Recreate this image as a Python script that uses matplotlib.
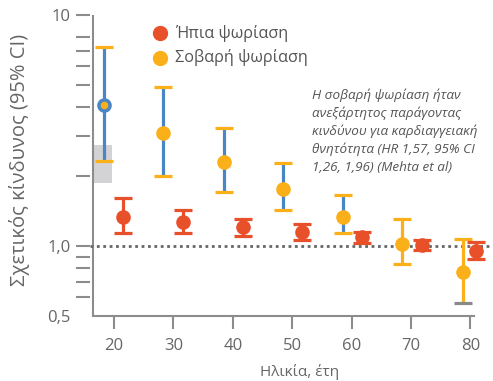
import matplotlib
matplotlib.use("Agg")
import matplotlib.pyplot as plt
from matplotlib.lines import Line2D
from matplotlib.patches import Rectangle

plt.rcParams['font.family'] = ['Open Sans', 'DejaVu Sans']

# ---- data ----
severe_age = [18.4, 28.3, 38.6, 48.5, 58.6, 68.5, 78.7]
severe_hr = [4.07, 3.09, 2.32, 1.76, 1.34, 1.02, 0.77]
severe_lo = [2.34, 2.00, 1.72, 1.43, 1.135, 0.833, 0.565]
severe_hi = [7.29, 4.86, 3.23, 2.28, 1.66, 1.305, 1.072]

mild_age = [21.5, 31.6, 41.7, 51.6, 61.7, 71.8, 81.0]
mild_hr = [1.34, 1.27, 1.21, 1.153, 1.09, 1.01, 0.954]
mild_lo = [1.135, 1.135, 1.10, 1.062, 1.027, 0.961, 0.878]
mild_hi = [1.61, 1.43, 1.31, 1.245, 1.146, 1.06, 1.037]

# shaded box
box_x = [16.47, 19.65]
box_y = [1.87, 2.74]

x_ticks = [20, 30, 40, 50, 60, 70, 80]
y_major = [0.5, 1.0, 10]
y_major_labels = ['0,5', '1,0', '10']
y_minor = [0.6, 0.7, 0.8, 0.9, 2, 3, 4, 5, 6, 7, 8]

legend_labels = ['Ήπια ψωρίαση', 'Σοβαρή ψωρίαση']
xlabel = 'Ηλικία, έτη'
ylabel = 'Σχετικός κίνδυνος (95% CI)'
note = ('Η σοβαρή ψωρίαση ήταν\n'
        'ανεξάρτητος παράγοντας\n'
        'κινδύνου για καρδιαγγειακή\n'
        'θνητότητα (HR 1,57, 95% CI\n'
        '1,26, 1,96) (Mehta et al)')

# ---- style ----
RED = '#e8502a'
YEL = '#fbb01a'
BLUE = '#4a86c6'
AX = '#8c8c8c'
TXT = '#666666'

W, H = 493, 381
fig = plt.figure(figsize=(W / 100, H / 100), dpi=100)

def fx(px):
    return px / W

def fy(py):
    return 1 - py / H

ax = fig.add_axes([fx(90), fy(315.5), fx(493 - 90), (315.5 - 15) / H])
ax.set_yscale('log')
ax.set_xlim(15.96, 83.8)
ax.set_ylim(0.5, 10)

for s in ['top', 'right', 'left']:
    ax.spines[s].set_visible(False)
ax.spines['bottom'].set_color(AX)
ax.spines['bottom'].set_linewidth(1.5)
ax.spines['bottom'].set_bounds(16.47, 80.6)
ax.axvline(16.47, color=AX, lw=1.5, zorder=1)

ax.set_xticks(x_ticks)
ax.set_xticklabels([str(v) for v in x_ticks])
ax.xaxis.set_minor_locator(plt.NullLocator())
ax.set_yticks(y_major)
ax.set_yticklabels(y_major_labels)
ax.set_yticks(y_minor, minor=True)
ax.yaxis.set_minor_formatter(plt.NullFormatter())
ax.tick_params(axis='both', which='both', color=AX, width=1.5, labelcolor=TXT,
               labelsize=12)
ax.tick_params(axis='y', which='both', length=10, pad=4)
ax.tick_params(axis='x', length=9, pad=7)
ax.yaxis.get_major_ticks()[0].tick1line.set_visible(False)

# shaded rectangle
ax.add_patch(Rectangle((box_x[0], box_y[0]), box_x[1] - box_x[0], box_y[1] - box_y[0],
                       facecolor='#d3d3d5', edgecolor='none', zorder=0))

# reference line
ax.axhline(1.0, color='#666666', lw=2, linestyle=(0, (1, 1.3)), zorder=1)

# severe psoriasis error bars
for i, (a, h, lo, hi) in enumerate(zip(severe_age, severe_hr, severe_lo, severe_hi)):
    col = BLUE if i < 5 else YEL
    ax.plot([a, a], [lo, hi], color=col, lw=2.3, solid_capstyle='butt', zorder=3)
    lo_col = '#8a8a8a' if i == 6 else YEL
    ax.plot([a], [hi], marker='_', ms=13, mew=2.3, color=YEL, zorder=4)
    ax.plot([a], [lo], marker='_', ms=13, mew=2.3, color=lo_col, zorder=4)
    if i == 0:
        ax.plot([a], [h], marker='o', ms=8, mfc=YEL, mec=BLUE, mew=2.5, zorder=5)
    else:
        ax.plot([a], [h], marker='o', ms=9.5, color=YEL, mec=YEL, zorder=5)

# mild psoriasis error bars
for a, h, lo, hi in zip(mild_age, mild_hr, mild_lo, mild_hi):
    ax.plot([a, a], [lo, hi], color=RED, lw=2.3, solid_capstyle='butt', zorder=3)
    ax.plot([a, a], [lo, hi], marker='_', ms=13, mew=2.3, color=RED, lw=0, zorder=4)
    ax.plot([a], [h], marker='o', ms=9.5, color=RED, zorder=5)

# legend
for py, col, lab in [(33, RED, legend_labels[0]), (58, YEL, legend_labels[1])]:
    fig.add_artist(Line2D([fx(160)], [fy(py)], marker='o', ms=10, color=col,
                          transform=fig.transFigure))
    fig.text(fx(175), fy(py), lab, color='#555555', fontsize=11.7, va='center', ha='left')

# axis labels
fig.text(fx(20), fy(160), ylabel, rotation=90, color=TXT, fontsize=14.5,
         ha='center', va='center')
fig.text(fx(300), fy(372), xlabel, color=TXT, fontsize=11, ha='center', va='center')

# annotation
fig.text(fx(312), fy(131), note, color='#555555', fontsize=9.7, style='italic',
         ha='left', va='center', linespacing=1.45)

fig.savefig('out.png', dpi=100)
